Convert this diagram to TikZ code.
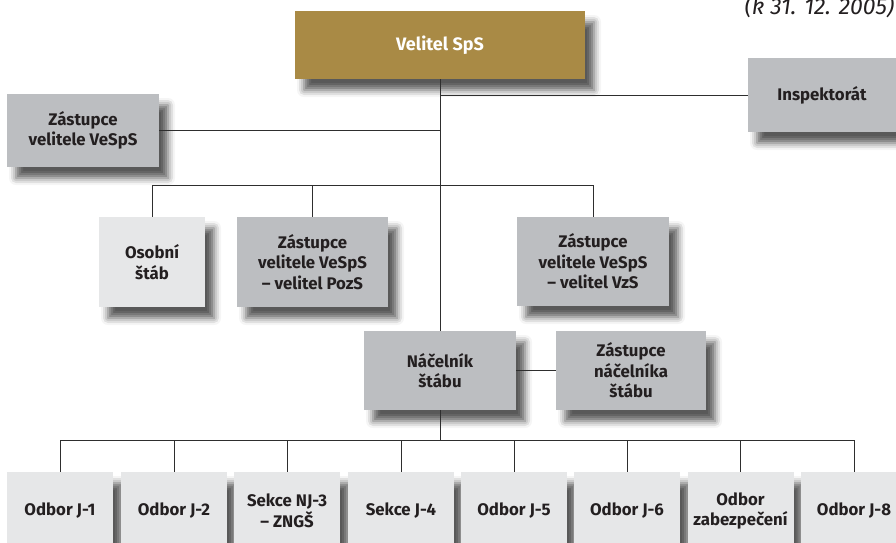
\documentclass[tikz,border=0pt]{standalone}
\usepackage{fontspec}
\setmainfont{Fira Sans}
\usetikzlibrary{shadows.blur}
\definecolor{gold}{HTML}{A98A45}
\definecolor{boxgray}{HTML}{BCBEC1}
\definecolor{boxlight}{HTML}{E6E7E8}
\definecolor{txt}{HTML}{231F20}
\definecolor{linec}{HTML}{2E2E2E}
\tikzset{
  base/.style={rectangle, inner sep=0pt, align=center, text=txt,
    font=\fontsize{16.8}{20.5}\selectfont\bfseries,
    blur shadow={shadow xshift=9pt, shadow yshift=-11pt, shadow blur radius=7pt, shadow opacity=65}},
  gbox/.style={base, fill=boxgray},
  lbox/.style={base, fill=boxlight},
  goldbox/.style={base, fill=gold, text=white, font=\fontsize{18}{21}\selectfont\bfseries},
  conn/.style={draw=linec, line width=1pt},
}
\begin{document}
\begin{tikzpicture}[x=1pt,y=-1pt]
\useasboundingbox (0,0) rectangle (896,542);
\node[anchor=base west, font=\fontsize{23}{25}\selectfont\itshape, text=txt] (date) at (741,14) {(k 31. 12. 2005)};
\node[goldbox, minimum width=290pt, minimum height=68pt] (vel) at (440,45) {Velitel SpS};
\node[gbox, minimum width=148pt, minimum height=74pt] (insp) at (822,95) {Inspektorát};
\node[gbox, minimum width=152pt, minimum height=73pt] (zv) at (83,130.5) {Zástupce\\velitele VeSpS};
\node[lbox, minimum width=106pt, minimum height=90pt] (os) at (152,262) {Osobní\\štáb};
\node[gbox, minimum width=151pt, minimum height=90pt] (pozs) at (312.5,262) {Zástupce\\velitele VeSpS\\– velitel PozS};
\node[gbox, minimum width=152pt, minimum height=89pt] (vzs) at (593,261.5) {Zástupce\\velitele VeSpS\\– velitel VzS};
\node[gbox, minimum width=152pt, minimum height=79pt] (nac) at (440,370.5) {Náčelník\\štábu};
\node[gbox, minimum width=150pt, minimum height=79pt] (znac) at (631,370.5) {Zástupce\\náčelníka\\štábu};
\foreach \n/\cx/\t in {j1/60/{Odbor J-1}, j2/174/{Odbor J-2}, j3/287/{Sekce NJ-3\\– ZNGŠ}, j4/401/{Sekce J-4}, j5/514/{Odbor J-5}, j6/627/{Odbor J-6}, j7/740.5/{Odbor\\zabezpečení}, j8/854/{Odbor J-8}}
  \node[lbox, minimum width=106pt, minimum height=78pt] (\n) at (\cx,511) {\t};
\coordinate (b1) at (0,185);
\coordinate (b3) at (0,440);
\draw[conn] (vel.south) -- (vel.south |- nac.north);
\draw[conn] (insp.west) -- (insp.west -| vel.south);
\draw[conn] (zv.east) -- (zv.east -| vel.south);
\draw[conn] (os.north) -- (os.north |- b1) -- (vzs.north |- b1) -- (vzs.north);
\draw[conn] (pozs.north) -- (pozs.north |- b1);
\draw[conn] (nac.east) -- (znac.west);
\draw[conn] (nac.south) -- (nac.south |- b3);
\draw[conn] (j1.north) -- (j1.north |- b3) -- (j8.north |- b3) -- (j8.north);
\foreach \n in {j2,j3,j4,j5,j6,j7}
  \draw[conn] (\n.north) -- (\n.north |- b3);
\end{tikzpicture}
\end{document}
